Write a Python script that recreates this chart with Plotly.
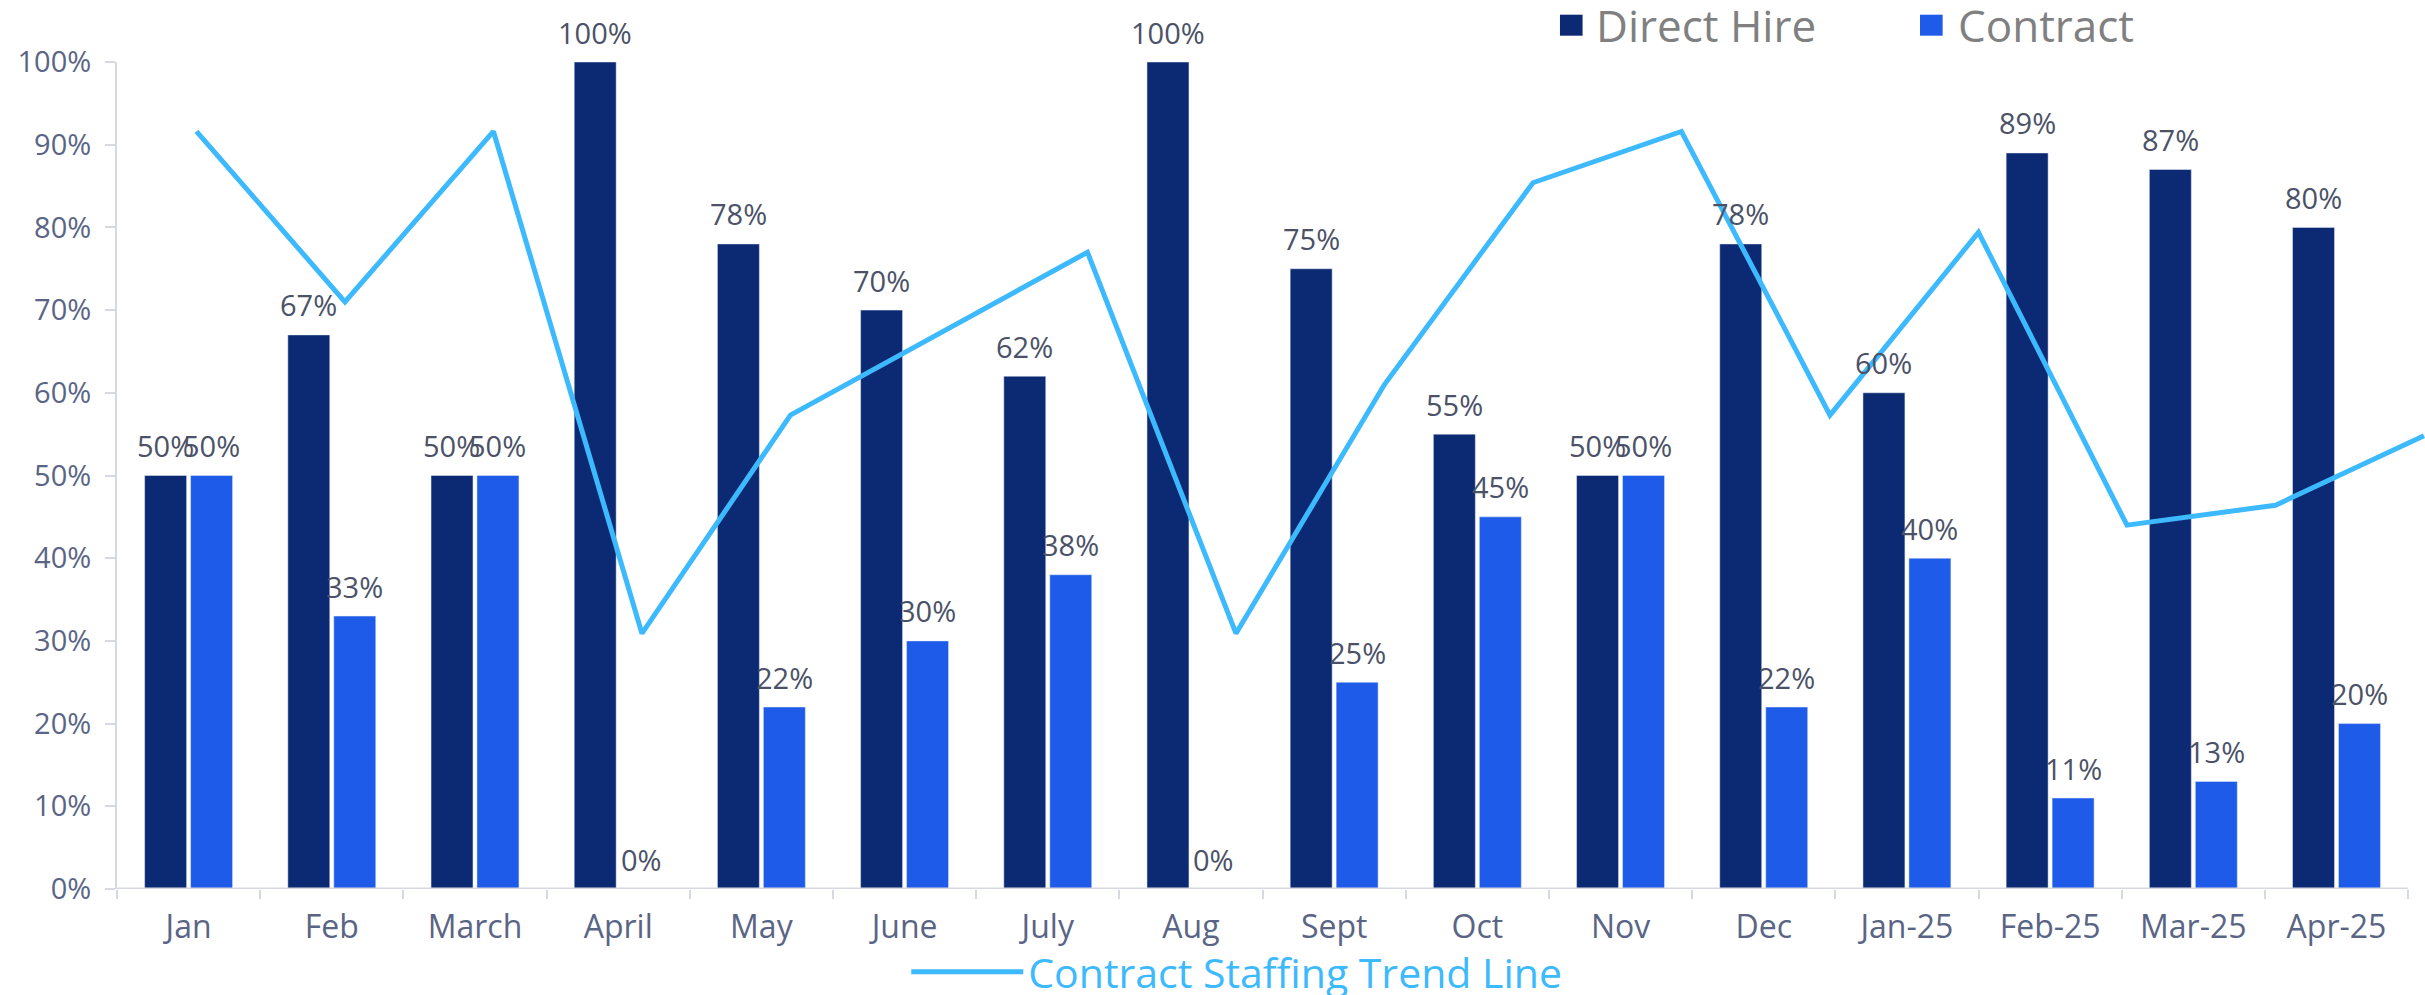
import plotly.graph_objects as go

months = ["Jan", "Feb", "March", "April", "May", "June", "July", "Aug",
          "Sept", "Oct", "Nov", "Dec", "Jan-25", "Feb-25", "Mar-25", "Apr-25"]
direct_hire = [50, 67, 50, 100, 78, 70, 62, 100, 75, 55, 50, 78, 60, 89, 87, 80]
contract = [50, 33, 50, 0, 22, 30, 38, 0, 25, 45, 50, 22, 40, 11, 13, 20]
trend = [91.6, 71.0, 91.6, 30.9, 57.3, 67.2, 77.0, 30.9, 61.0, 85.4, 91.6, 57.3,
         79.4, 44.0, 46.4, 54.8]

DARK = "#0C2A73"
BLUE = "#1E5BE9"
LINE = "#3DB9FE"
TICK = "#5A6585"
LABEL = "#4B5268"
AXIS = "#D6D9E0"
LEG = "#808080"
FONT = "Open Sans"

BARGAP = 0.358
GROUPGAP = 0.087
CAT_PX = 143.19
SLOT_PX = (1 - BARGAP) * CAT_PX / 2

fig = go.Figure()
fig.add_trace(go.Bar(x=months, y=direct_hire, name="Direct Hire", marker_color=DARK,
                     showlegend=False, hoverinfo="skip"))
fig.add_trace(go.Bar(x=months, y=contract, name="Contract", marker_color=BLUE,
                     showlegend=False, hoverinfo="skip"))
fig.add_trace(go.Scatter(x=months, y=trend, name="Contract Staffing Trend Line", mode="lines",
                         xaxis="x2", yaxis="y", line=dict(color=LINE, width=5),
                         legend="legend2", hoverinfo="skip"))

annotations = []
for series, shift in ((direct_hire, -SLOT_PX / 2), (contract, SLOT_PX / 2)):
    for m, v in zip(months, series):
        annotations.append(dict(x=m, y=v, xref="x", yref="y", text=f"{v}%",
                                showarrow=False, xshift=shift, yshift=30,
                                xanchor="center", yanchor="middle",
                                font=dict(size=29, color=LABEL, family=FONT)))

# top legend (manual, to match the large square keys)
legend_items = [("Direct Hire", DARK, 0.6252, 0.6398), ("Contract", BLUE, 0.7812, 0.7966)]
shapes = []
for name, col, sx, tx in legend_items:
    shapes.append(dict(type="rect", xref="paper", yref="paper", x0=sx, x1=sx + 0.0098,
                       y0=1.0318, y1=1.0572, fillcolor=col, line=dict(width=0)))
    annotations.append(dict(x=tx, y=1.0445, xref="paper", yref="paper", text=name,
                            showarrow=False, xanchor="left", yanchor="middle",
                            font=dict(size=44, color=LEG, family=FONT)))

shapes.append(dict(type="line", xref="x", yref="y", x0=-0.5, x1=15.5, y0=0, y1=0,
                   line=dict(color=AXIS, width=3), layer="above"))

fig.update_layout(
    width=2425, height=995, autosize=False,
    margin=dict(l=117, r=0, t=62, b=106, pad=0),
    paper_bgcolor="white", plot_bgcolor="white",
    font=dict(family=FONT, color=TICK),
    barmode="group", bargap=BARGAP, bargroupgap=GROUPGAP,
    xaxis=dict(type="category", categoryorder="array", categoryarray=months,
               range=[-0.5, 15.618], showline=False, showgrid=False, zeroline=False,
               ticks="outside", tickson="boundaries", ticklen=9, tickwidth=2,
               tickcolor=AXIS, tickfont=dict(size=32, color=TICK, family=FONT),
               ticklabelstandoff=16, automargin=False),
    xaxis2=dict(type="category", categoryorder="array", categoryarray=months,
                overlaying="x", anchor="y", range=[-0.535, 15.007], visible=False),
    yaxis=dict(range=[0, 100], dtick=10, ticksuffix="%", showgrid=False, zeroline=False,
               showline=True, linecolor=AXIS, linewidth=2,
               ticks="outside", ticklen=10, tickwidth=2, tickcolor=AXIS,
               tickfont=dict(size=29, color=TICK, family=FONT), ticklabelstandoff=8,
               automargin=False),
    legend2=dict(orientation="h", x=0.51, y=0.023, xref="container", yref="container",
                 xanchor="center", yanchor="middle",
                 font=dict(size=41, color=LINE, family=FONT),
                 bgcolor="rgba(0,0,0,0)", itemwidth=112),
    shapes=shapes,
    annotations=annotations,
)

fig.write_html(
    "out.html",
    config={"displayModeBar": False},
    post_script="document.body.style.margin='0';document.body.style.overflow='hidden';",
)
